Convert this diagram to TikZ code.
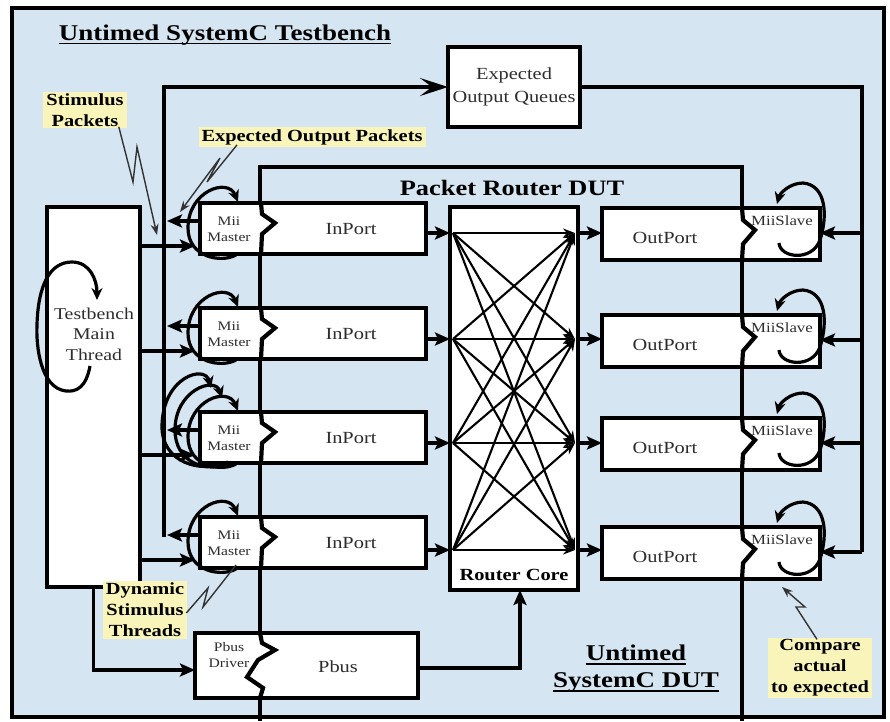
\documentclass[tikz,border=0pt]{standalone}
\usepackage{fontspec}
\setmainfont{Liberation Serif}[FakeStretch=1.2]
\usetikzlibrary{arrows.meta,calc}
\definecolor{bgblue}{RGB}{213,230,242}
\definecolor{noteyel}{RGB}{248,244,186}
\definecolor{txtgray}{RGB}{45,45,45}
% thick underline for headings
\newcommand\thickul[1]{\setbox0=\hbox{#1}\leavevmode\rlap{\rule[-4pt]{\wd0}{1.8pt}}\box0}

\begin{document}
\begin{tikzpicture}[x=1pt,y=-1pt,
  box/.style={draw, line width=4.2pt, fill=white, inner sep=0pt, outer sep=0pt, anchor=north west},
  conn/.style={line width=3.4pt},
  arr/.style={conn, -{Stealth[length=15pt,width=13pt,inset=3pt]}},
  bigarr/.style={conn, -{Stealth[length=28pt,width=18pt,inset=12pt]}},
  xbar/.style={line width=2.1pt, -{Stealth[length=12pt,width=9pt]}},
  loopy/.style={line width=3.2pt, -{Stealth[length=12pt,width=11pt]}},
  divider/.style={line width=4.2pt, line join=miter},
  bolt/.style={line width=1.4pt, draw=black!80, -{Stealth[length=11pt,width=8pt]}},
  porttxt/.style={font=\fontsize{17}{20}\selectfont, text=txtgray, inner sep=0pt},
  smalltxt/.style={font=\fontsize{13}{16}\selectfont, text=txtgray, align=center, inner sep=0pt},
  heading/.style={font=\bfseries\fontsize{22.5}{27}\selectfont, align=center, inner sep=0pt},
  note/.style={fill=noteyel, font=\bfseries\fontsize{17}{21}\selectfont, align=center, inner xsep=3pt, inner ysep=2pt}
]
\useasboundingbox (0,0) rectangle (890,721);

% testbench frame
\node[draw, line width=4.8pt, fill=bgblue, minimum width=872pt, minimum height=709pt,
      anchor=north west, inner sep=0pt, outer sep=0pt] (frame) at (12,8) {};

% boundary of the router DUT
\draw[line width=4pt] (260,721) -- (260,167) -- (742,167) -- (742,721);

% boxes
\node[box, minimum width=93pt, minimum height=380pt] (tb) at (47,207) {};
\node[box, minimum width=132pt, minimum height=80pt, align=center,
      font=\fontsize{17}{23}\selectfont, text=txtgray] (eoq) at (448,47) {Expected\\Output Queues};
\node[box, minimum width=128pt, minimum height=383pt] (core) at (450,207) {};
\node[box, minimum width=223pt, minimum height=65pt] (pbus) at (195,633) {};

\foreach \T [count=\i] in {203,308,412,517} {
  \node[box, minimum width=226pt, minimum height=51pt] (in\i) at (200,\T) {};
}
\foreach \T [count=\i] in {208,315,418,527} {
  \node[box, minimum width=218pt, minimum height=52pt] (out\i) at (602,\T) {};
}

% wavy section borders
\foreach \T in {203,308,412,517} {
  \draw[divider] (261,\T) -- (262,\T+11) -- (275,\T+20) -- (262,\T+31) -- (261,\T+51);
}
\foreach \T in {208,315,418,527} {
  \draw[divider] (742,\T) -- (743,\T+12) -- (755,\T+22) -- (743,\T+36) -- (742,\T+52);
}
\draw[divider] (260,633) -- (262,643) -- (275,650) -- (258,660) -- (247,677) -- (263,688) -- (260,698);

% stimulus bus up to the expected output queues
\coordinate (busbot) at (164,537);
\coordinate (bustop) at (164,87);
\draw[bigarr] (busbot) -- (bustop) -- (eoq.west);

% expected output back to the slaves
\coordinate (retcorner) at (862,87);
\draw[conn] (eoq.east) -- (retcorner) -- (862,552);
\foreach \y [count=\j] in {233,340,443,552} {
  \coordinate (ret\j) at (862,\y);
  \draw[arr] (ret\j) -- (ret\j -| out\j.east);
}

% testbench to masters, masters to bus
\foreach \T [count=\i] in {203,308,412,517} {
  \coordinate (stim\i) at (195,\T+43);
  \coordinate (exp\i) at (167,\T+18);
  \draw[arr] (tb.east |- stim\i) -- (stim\i);
  \draw[arr] (in\i.west |- exp\i) -- (exp\i);
}

% master thread loops
\foreach \T in {203,308,412,517} {
  \draw[loopy] (236,\T+52) .. controls (222,\T+60) and (188,\T+55) .. (188,\T+25)
               .. controls (188,\T-12) and (228,\T-26) .. (238,\T-1);
}
\draw[loopy] (232,463) .. controls (205,474) and (175,462) .. (175,430)
             .. controls (175,390) and (215,376) .. (222,398);
\draw[loopy] (228,462) .. controls (200,474) and (162,462) .. (162,427)
             .. controls (162,377) and (205,364) .. (211,388);

% slave thread loops
\foreach \T in {208,315,418,527} {
  \draw[loopy] (779,\T+35) .. controls (780,\T+50) and (812,\T+54) .. (820,\T+32)
               .. controls (828,\T+7) and (826,\T-23) .. (803,\T-25)
               .. controls (790,\T-25) and (780,\T-15) .. (777,\T-4);
}

% testbench main thread loop
\draw[loopy] (90,366) .. controls (86,388) and (76,392) .. (66,391)
             .. controls (40,388) and (36,345) .. (37,325)
             .. controls (38,285) and (50,262) .. (72,262)
             .. controls (90,262) and (97,280) .. (97,300);

% in ports to core, core to out ports
\foreach \y [count=\i] in {233,339,443,550} {
  \coordinate (ci\i) at (453,\y);
  \coordinate (co\i) at (575,\y);
  \draw[arr] (in\i.east |- ci\i) -- (core.west |- ci\i);
  \draw[arr] (core.east |- co\i) -- (out\i.west |- co\i);
}
% crossbar
\foreach \i in {1,...,4} {
  \foreach \j in {1,...,4} {
    \draw[xbar] (ci\i) -- (co\j);
  }
}

% peripheral bus
\coordinate (pb) at (0,670);
\draw[arr] (tb.south) -- (tb.south |- pb) -- (pbus.west |- pb);
\coordinate (pr) at (520,668);
\draw[arr] (pbus.east |- pr) -- (pr) -- (pr |- core.south);

% texts
\node[font=\fontsize{16.5}{20.5}\selectfont, text=txtgray, align=center, inner sep=0pt] (tbtxt) at (94,334) {Testbench\\Main\\Thread};
\foreach \T [count=\i] in {203,308,412,517} {
  \node[smalltxt] (mii\i) at (229,\T+26) {Mii\\Master};
  \node[porttxt] (inp\i) at (351,\T+26) {InPort};
}
\foreach \T [count=\i] in {208,315,418,527} {
  \node[porttxt] (outp\i) at (665,\T+30) {OutPort};
  \node[smalltxt, font=\fontsize{14}{16}\selectfont] (slv\i) at (782,\T+13) {MiiSlave};
}
\node[smalltxt] (pdrv) at (229,655) {Pbus\\Driver};
\node[porttxt] (pbtxt) at (338,667) {Pbus};
\node[font=\bfseries\fontsize{17}{20}\selectfont, inner sep=0pt] (coretxt) at (514,575) {Router Core};
\node[heading, font=\bfseries\fontsize{22}{26}\selectfont] (duttitle) at (512,188) {Packet Router DUT};
\node[heading] (tbtitle) at (225,35) {\thickul{Untimed SystemC Testbench}};
\node[heading] (duttag) at (636,669) {\thickul{Untimed}\\\thickul{SystemC DUT}};

% callouts
\node[note] (nstim) at (85,110) {Stimulus\\Packets};
\node[note] (nexp) at (312,137) {Expected Output Packets};
\node[note] (ndyn) at (145,610) {Dynamic\\Stimulus\\Threads};
\node[note] (ncmp) at (820,668) {Compare\\actual\\to expected};

\draw[bolt] (nstim.south east) ++(-8,-2) -- (133,182) -- (137,147) -- (157,235);
\draw[bolt] (nexp.south) ++(-75,-2) -- (207,182) -- (220,158) -- (180,212);
\draw[bolt, -] (ndyn.east) ++(-1,3) -- (208,588) -- (203,607) -- (236,565);
\draw[bolt] (ncmp.north) ++(-3,2) -- (796,607) -- (805,607) -- (782,587);
\end{tikzpicture}
\end{document}
